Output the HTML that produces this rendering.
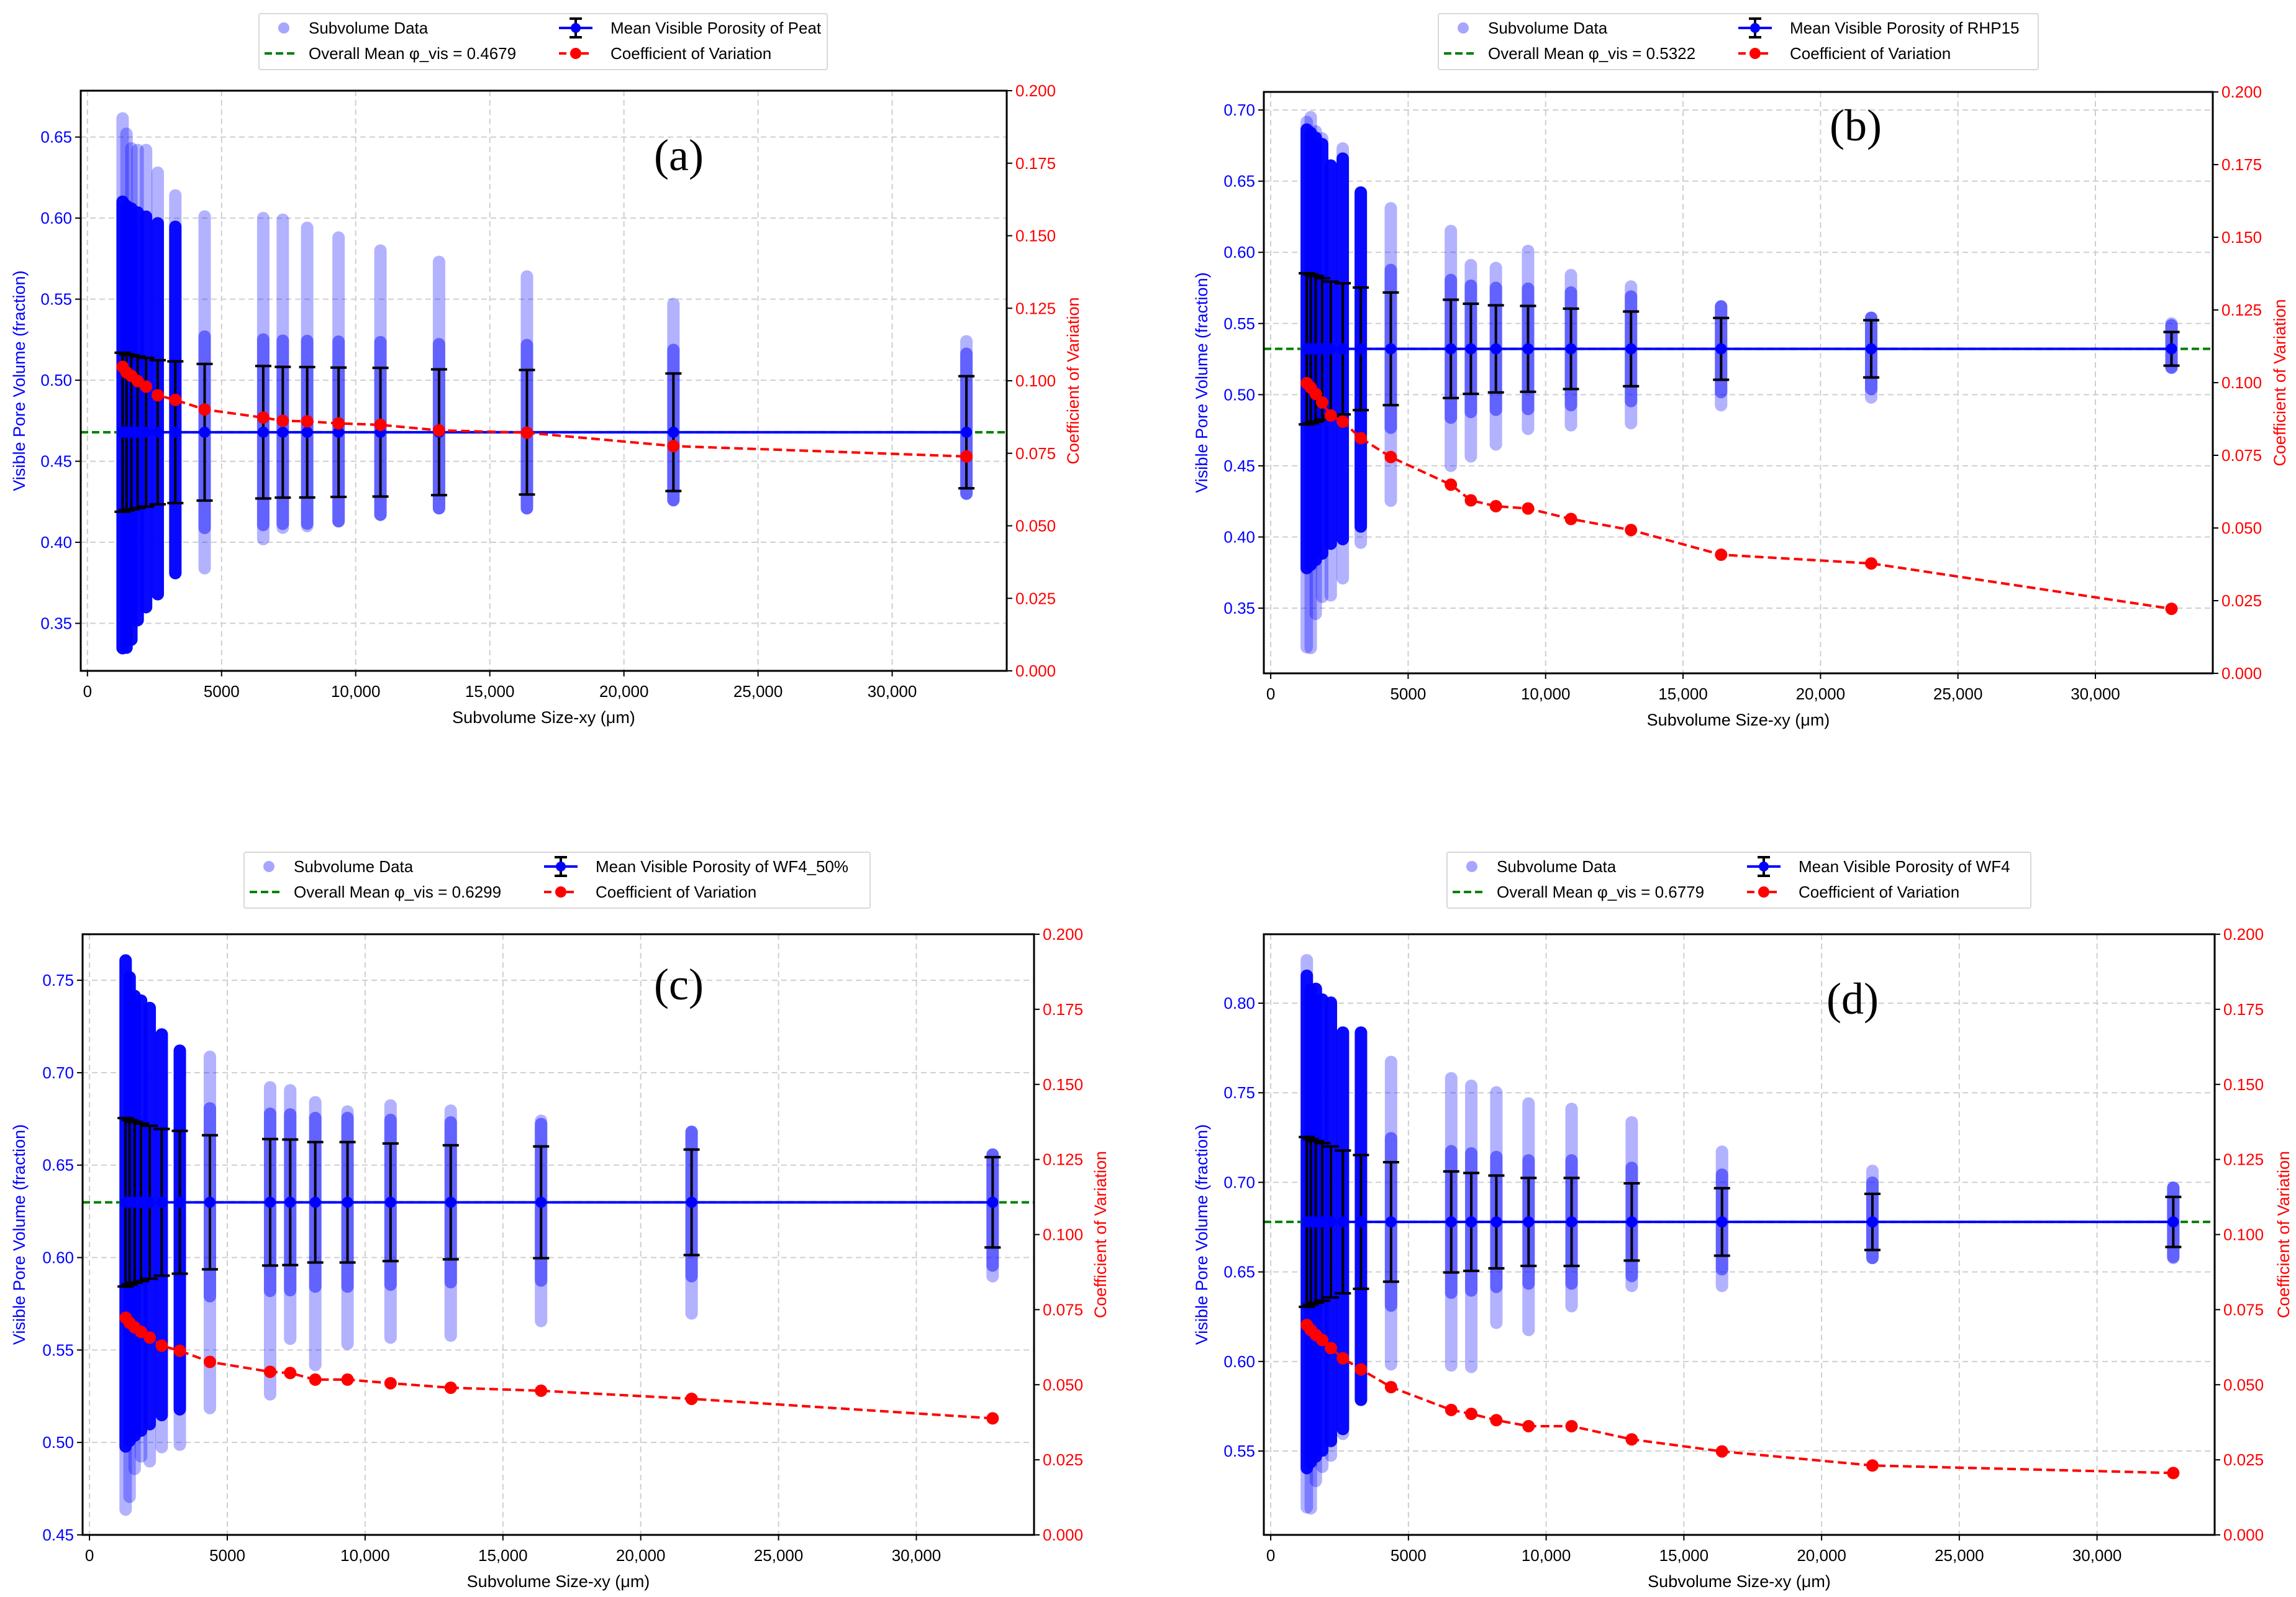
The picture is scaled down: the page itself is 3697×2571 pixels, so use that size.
<!DOCTYPE html>
<html><head><meta charset="utf-8"><style>
html,body{margin:0;padding:0;background:#fff;}
svg{display:block;font-family:"Liberation Sans",sans-serif;}
</style></head><body>
<svg id="fig" xmlns="http://www.w3.org/2000/svg" width="3697" height="2571" viewBox="0 0 3697 2571">
<rect x="0" y="0" width="3697" height="2571" fill="#fff"/>
</svg>
<script>
// ---- shared data ----
const sizesXY = [1311,1456,1638,1872,2185,2621,3277,4369,6554,7282,8192,9362,10923,13107,16384,21845,32768];
const counts  = [2500,2025,1600,1225,900,625,400,225,100,81,64,49,36,25,16,9,4];
const xTickVals = [0,5000,10000,15000,20000,25000,30000];
const xTickLabels = ["0","5000","10,000","15,000","20,000","25,000","30,000"];
const cvTickVals = [0,0.025,0.05,0.075,0.1,0.125,0.15,0.175,0.2];
const cvTickLabels = ["0.000","0.025","0.050","0.075","0.100","0.125","0.150","0.175","0.200"];

// ---- panel (a) Peat ----
const meanA = [0.4679,0.4679,0.4679,0.4679,0.4679,0.4679,0.4679,0.4679,0.4679,0.4679,0.4679,0.4679,0.4679,0.4679,0.4679,0.4679,0.4679];
const cvA   = [0.1048,0.1029,0.1017,0.0999,0.098,0.095,0.0934,0.0901,0.0873,0.0862,0.086,0.0853,0.0848,0.0829,0.0821,0.0775,0.0739];
const hiA   = [0.6615,0.652,0.643,0.642,0.642,0.628,0.614,0.601,0.600,0.599,0.594,0.588,0.580,0.573,0.564,0.547,0.524];
const loA   = [0.3347,0.335,0.340,0.352,0.360,0.368,0.381,0.384,0.402,0.409,0.410,0.413,0.417,0.421,0.421,0.426,0.430];
const overallA = 0.4679;
const yTicksA = [0.35,0.40,0.45,0.50,0.55,0.60,0.65];

// ---- panel (b) RHP15 ----
const meanB = [0.5322,0.5322,0.5322,0.5322,0.5322,0.5322,0.5322,0.5322,0.5322,0.5322,0.5322,0.5322,0.5322,0.5322,0.5322,0.5322,0.5322];
const cvB   = [0.0998,0.0983,0.0961,0.0932,0.0887,0.0866,0.0809,0.0744,0.0649,0.0595,0.0575,0.0567,0.0531,0.0493,0.0408,0.0378,0.0222];
const hiB   = [0.6916,0.695,0.685,0.680,0.661,0.673,0.642,0.631,0.615,0.591,0.589,0.601,0.584,0.576,0.562,0.554,0.550];
const loB   = [0.3225,0.322,0.346,0.358,0.359,0.371,0.396,0.4255,0.450,0.4567,0.465,0.476,0.4785,0.480,0.4926,0.498,0.519];
const overallB = 0.5322;
const yTicksB = [0.35,0.40,0.45,0.50,0.55,0.60,0.65,0.70];

// ---- panel (c) WF4_50% ----
const meanC = [0.6299,0.6299,0.6299,0.6299,0.6299,0.6299,0.6299,0.6299,0.6299,0.6299,0.6299,0.6299,0.6299,0.6299,0.6299,0.6299,0.6299];
const cvC   = [0.0723,0.0706,0.0691,0.0676,0.0657,0.063,0.0613,0.0576,0.0543,0.0539,0.0517,0.0517,0.0505,0.049,0.048,0.0453,0.0388];
const hiC   = [0.7607,0.7516,0.7415,0.739,0.735,0.7207,0.7119,0.7086,0.6921,0.6905,0.684,0.679,0.6823,0.6795,0.674,0.668,0.6557];
const loC   = [0.4637,0.4706,0.4857,0.4925,0.4898,0.4975,0.4988,0.5186,0.526,0.5561,0.5419,0.5534,0.5567,0.5578,0.5657,0.5698,0.5899];
const overallC = 0.6299;
const yTicksC = [0.45,0.50,0.55,0.60,0.65,0.70,0.75];

// ---- panel (d) WF4 ----
const meanD = [0.6779,0.6779,0.6779,0.6779,0.6779,0.6779,0.6779,0.6779,0.6779,0.6779,0.6779,0.6779,0.6779,0.6779,0.6779,0.6779,0.6779];
const cvD   = [0.0699,0.0682,0.0666,0.0649,0.0622,0.0588,0.0551,0.0492,0.0416,0.0403,0.0382,0.0362,0.0362,0.0318,0.0278,0.0231,0.0206];
const hiD   = [0.824,0.8076,0.808,0.802,0.8006,0.7836,0.7836,0.7672,0.7581,0.7539,0.7502,0.744,0.741,0.7335,0.7171,0.7064,0.697];
const loD   = [0.5186,0.518,0.5333,0.5412,0.5475,0.5596,0.5786,0.5984,0.5978,0.597,0.6216,0.6176,0.6309,0.6422,0.6422,0.6578,0.6578];
const overallD = 0.6779;
const yTicksD = [0.55,0.60,0.65,0.70,0.75,0.80];

const NS = "http://www.w3.org/2000/svg";
const svg = document.getElementById('fig');
function mk(parent, tag, attrs, text){
  const el = document.createElementNS(NS, tag);
  for (const k in attrs) el.setAttribute(k, attrs[k]);
  if (text !== undefined) el.textContent = text;
  parent.appendChild(el);
  return el;
}
const BLUE = "#0000ff", RED = "#ff0000", GREEN = "#008000";
const XMIN = -250, XMAX = 34270;

function drawPanel(P){
  const g = mk(svg, 'g', {});
  
  
  const sx = v => P.L + (v - XMIN) / (XMAX - XMIN) * (P.R - P.L);
  const sy = v => P.B - (v - P.y0) / (P.y1 - P.y0) * (P.B - P.T);
  const sc = v => P.B - v / 0.2 * (P.B - P.T);

  xTickVals.forEach((v,i) => {
    const l = mk(g,'line',{x1:sx(v),x2:sx(v),y1:P.T,y2:P.B,stroke:"#cfcfcf","stroke-width":2,"stroke-dasharray":"9 6"});
    
    
  });
  P.yticks.forEach(v => {
    const l = mk(g,'line',{x1:P.L,x2:P.R,y1:sy(v),y2:sy(v),stroke:"#cfcfcf","stroke-width":2,"stroke-dasharray":"9 6"});
    
    
  });

  const r = 10;
  sizesXY.forEach((s,i) => {
    const x = sx(s);
    const band = mk(g,'rect',{x:x-r,y:sy(P.hi[i])-r,width:2*r,height:sy(P.lo[i])-sy(P.hi[i])+2*r,rx:r,fill:BLUE,"fill-opacity":0.3});
    
    
    const sd = P.cv[i]*P.mean[i];
    const dense = counts[i] >= 400;
    const k = dense ? 2.9 : 1.4;
    const cHi = Math.min(P.hi[i], P.mean[i] + k*sd), cLo = Math.max(P.lo[i], P.mean[i] - k*sd);
    const core = mk(g,'rect',{x:x-r,y:sy(cHi)-r,width:2*r,height:sy(cLo)-sy(cHi)+2*r,rx:r,fill:BLUE,"fill-opacity":dense?0.95:0.45});
    
    
  });

  const om = mk(g,'line',{x1:P.L,x2:P.R,y1:sy(P.overall),y2:sy(P.overall),stroke:GREEN,"stroke-width":4,"stroke-dasharray":"12 6"});
  
  

  const mpts = sizesXY.map((s,i)=>sx(s)+','+sy(P.mean[i])).join(' ');
  const ml = mk(g,'polyline',{points:mpts,fill:"none",stroke:BLUE,"stroke-width":4});
  
  
  sizesXY.forEach((s,i) => {
    const x = sx(s), sd = P.cv[i]*P.mean[i];
    const yt = sy(P.mean[i]+sd), yb = sy(P.mean[i]-sd);
    const eb = mk(g,'path',{d:`M${x},${yt}V${yb}M${x-13},${yt}H${x+13}M${x-13},${yb}H${x+13}`,stroke:"#000","stroke-width":4,fill:"none"});
    
    
    const m = mk(g,'circle',{cx:x,cy:sy(P.mean[i]),r:9,fill:BLUE});
    
    
  });

  const cpts = sizesXY.map((s,i)=>sx(s)+','+sc(P.cv[i])).join(' ');
  const cl = mk(g,'polyline',{points:cpts,fill:"none",stroke:RED,"stroke-width":4,"stroke-dasharray":"14 7"});
  
  
  sizesXY.forEach((s,i) => {
    const c = mk(g,'circle',{cx:sx(s),cy:sc(P.cv[i]),r:10,fill:RED});
    
    
  });

  const fr = mk(g,'rect',{x:P.L,y:P.T,width:P.R-P.L,height:P.B-P.T,fill:"none",stroke:"#000","stroke-width":3});
  
  

  xTickVals.forEach((v,i) => {
    const t = mk(g,'line',{x1:sx(v),x2:sx(v),y1:P.B,y2:P.B+9,stroke:"#000","stroke-width":2});
    
    
    const tl = mk(g,'text',{x:sx(v),y:P.B+42,"font-size":26,"text-anchor":"middle",fill:"#000"}, xTickLabels[i]);
    
    
  });
  P.yticks.forEach(v => {
    const t = mk(g,'line',{x1:P.L-9,x2:P.L,y1:sy(v),y2:sy(v),stroke:"#000","stroke-width":2});
    
    
    const tl = mk(g,'text',{x:P.L-14,y:sy(v)+9,"font-size":26,"text-anchor":"end",fill:BLUE}, v.toFixed(2));
    
    
  });
  cvTickVals.forEach((v,i) => {
    const t = mk(g,'line',{x1:P.R,x2:P.R+9,y1:sc(v),y2:sc(v),stroke:"#000","stroke-width":2});
    
    
    const tl = mk(g,'text',{x:P.R+14,y:sc(v)+9,"font-size":26,"text-anchor":"start",fill:RED}, cvTickLabels[i]);
    
    
  });

  const xt = mk(g,'text',{x:(P.L+P.R)/2,y:P.B+84,"font-size":27,"text-anchor":"middle",fill:"#000"}, "Subvolume Size-xy (μm)");
  
  
  const cy = (P.T+P.B)/2;
  const yt = mk(g,'text',{x:P.yl,y:cy,"font-size":27,"text-anchor":"middle",fill:BLUE,transform:`rotate(-90 ${P.yl} ${cy})`,"dominant-baseline":"middle"}, "Visible Pore Volume (fraction)");
  
  
  const rt = mk(g,'text',{x:P.yr,y:cy,"font-size":27,"text-anchor":"middle",fill:RED,transform:`rotate(-90 ${P.yr} ${cy})`,"dominant-baseline":"middle"}, "Coefficient of Variation");
  
  

  const pl = mk(g,'text',{x:P.lx,y:P.ly+24,"font-size":72,"text-anchor":"middle",fill:"#000","font-family":"Liberation Serif, serif"}, "("+P.id+")");
  
  

  const lg = mk(g,'g',{});
  
  
  const bx = P.gx, by = P.gy;
  mk(lg,'rect',{x:bx,y:by,width:P.gw,height:90,fill:"#fff",stroke:"#d8d8d8","stroke-width":2,rx:3});
  const r1 = by+23, r2 = by+64;
  const e1 = mk(lg,'circle',{cx:bx+40,cy:r1,r:9,fill:BLUE,"fill-opacity":0.35});
  
  
  const t1 = mk(lg,'text',{x:bx+80,y:r1+9,"font-size":26,fill:"#000"}, "Subvolume Data");
  
  
  const e2 = mk(lg,'line',{x1:bx+9,x2:bx+60,y1:r2,y2:r2,stroke:GREEN,"stroke-width":4,"stroke-dasharray":"12 6"});
  
  
  const t2 = mk(lg,'text',{x:bx+80,y:r2+9,"font-size":26,fill:"#000"}, "Overall Mean φ_vis = " + P.overall.toFixed(4));
  
  
  const hx = bx+510;
  const e3 = mk(lg,'path',{d:`M${hx-27},${r1}H${hx+27}`,stroke:BLUE,"stroke-width":4});
  
  
  const e3b = mk(lg,'path',{d:`M${hx},${r1-15}V${r1+15}M${hx-10},${r1-15}H${hx+10}M${hx-10},${r1+15}H${hx+10}`,stroke:"#000","stroke-width":4,fill:"none"});
  
  
  const e3c = mk(lg,'circle',{cx:hx,cy:r1,r:8,fill:BLUE});
  
  
  const t3 = mk(lg,'text',{x:bx+566,y:r1+9,"font-size":26,fill:"#000"}, "Mean Visible Porosity of " + P.name);
  
  
  const e4 = mk(lg,'line',{x1:hx-27,x2:hx+27,y1:r2,y2:r2,stroke:RED,"stroke-width":4,"stroke-dasharray":"12 6"});
  
  
  const e4c = mk(lg,'circle',{cx:hx,cy:r2,r:9,fill:RED});
  
  
  const t4 = mk(lg,'text',{x:bx+566,y:r2+9,"font-size":26,fill:"#000"}, "Coefficient of Variation");
  
  
}

drawPanel({id:'a',name:'Peat',L:130,R:1621,T:146,B:1080,y0:0.3207,y1:0.6786,yticks:yTicksA,mean:meanA,cv:cvA,hi:hiA,lo:loA,overall:overallA,yl:33,yr:1730,lx:1093,ly:250,gx:417,gy:22,gw:915});
drawPanel({id:'b',name:'RHP15',L:2035,R:3563,T:148,B:1084,y0:0.3042,y1:0.7127,yticks:yTicksB,mean:meanB,cv:cvB,hi:hiB,lo:loB,overall:overallB,yl:1937,yr:3673,lx:2988,ly:202,gx:2316,gy:22,gw:966});
drawPanel({id:'c',name:'WF4_50%',L:133,R:1665,T:1504,B:2471,y0:0.45,y1:0.7749,yticks:yTicksC,mean:meanC,cv:cvC,hi:hiC,lo:loC,overall:overallC,yl:33,yr:1774,lx:1093,ly:1585,gx:393,gy:1372,gw:1008});
drawPanel({id:'d',name:'WF4',L:2035,R:3566,T:1504,B:2471,y0:0.5032,y1:0.8385,yticks:yTicksD,mean:meanD,cv:cvD,hi:hiD,lo:loD,overall:overallD,yl:1937,yr:3679,lx:2983,ly:1608,gx:2330,gy:1372,gw:940});
</script>
</body></html>
